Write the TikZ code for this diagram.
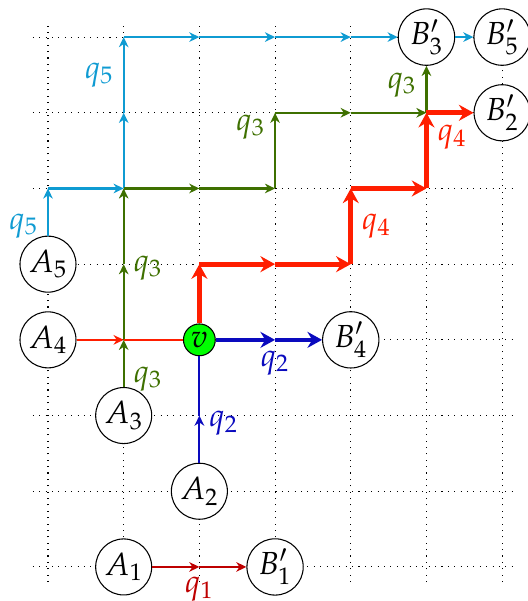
\documentclass[tikz,border=0pt]{standalone}
\usepackage{amsmath, amssymb, tikz}
\usepackage{mathpazo}
\usetikzlibrary{arrows.meta}

\definecolor{qone}{RGB}{190,0,0}
\definecolor{qtwo}{RGB}{10,10,190}
\definecolor{qthree}{RGB}{62,112,0}
\definecolor{qfour}{RGB}{255,30,0}
\definecolor{qfive}{RGB}{15,155,210}

\tikzset{
    vertex/.style={circle, draw, fill=white, minimum size=0.74cm, inner sep=1pt, font=\large},
    thin arrow/.style={thick, -{Stealth[length=3.8pt, width=3.6pt, inset=1.2pt]}},
    fat arrow/.style={-{Stealth[length=5.5pt, width=6pt, inset=1.8pt]}},
    lbl/.style={font=\large}
}

\begin{document}
\begin{tikzpicture}
    \useasboundingbox (-0.634,-0.45) rectangle (6.34,7.49);
    % Grid
    \draw[dotted] (-0.2,-0.2) grid (6.2,7.2);

    % Grid points
    \coordinate (p05) at (0,5);
    \coordinate (p13) at (1,3);
    \coordinate (p14) at (1,4);
    \coordinate (p15) at (1,5);
    \coordinate (p16) at (1,6);
    \coordinate (p17) at (1,7);
    \coordinate (p20) at (2,0);
    \coordinate (p22) at (2,2);
    \coordinate (p24) at (2,4);
    \coordinate (p25) at (2,5);
    \coordinate (p27) at (2,7);
    \coordinate (p33) at (3,3);
    \coordinate (p34) at (3,4);
    \coordinate (p35) at (3,5);
    \coordinate (p36) at (3,6);
    \coordinate (p37) at (3,7);
    \coordinate (p44) at (4,4);
    \coordinate (p45) at (4,5);
    \coordinate (p46) at (4,6);
    \coordinate (p47) at (4,7);
    \coordinate (p55) at (5,5);
    \coordinate (p56) at (5,6);

    % Draw nodes
    \node[vertex] (A1) at (1,0) {$A_1$};
    \node[vertex] (A2) at (2,1) {$A_2$};
    \node[vertex] (A3) at (1,2) {$A_3$};
    \node[vertex] (A4) at (0,3) {$A_4$};
    \node[vertex] (A5) at (0,4) {$A_5$};
    \node[vertex] (B1) at (3,0) {$B'_1$};
    \node[vertex] (B2) at (6,6) {$B'_2$};
    \node[vertex] (B3) at (5,7) {$B'_3$};
    \node[vertex] (B4) at (4,3) {$B'_4$};
    \node[vertex] (B5) at (6,7) {$B'_5$};
    \node[circle, draw, fill=green, minimum size=0.42cm, inner sep=0pt, font=\large] (v) at (2,3) {$v$};

    % q1
    \draw[thin arrow, qone] (A1) -- (p20) node[lbl, below] {$q_1$};
    \draw[thin arrow, qone] (p20) -- (B1);

    % q2
    \draw[thin arrow, qtwo] (A2) -- (p22) node[lbl, pos=0.83, right] {$q_2$};
    \draw[thick, qtwo] (p22) -- (v);
    \draw[fat arrow, qtwo, line width=1.5pt] (v) -- (p33) node[lbl, below] {$q_2$};
    \draw[fat arrow, qtwo, line width=1.5pt] (p33) -- (B4);

    % q5
    \draw[thin arrow, qfive] (A5) -- (p05) node[lbl, pos=0.2, left] {$q_5$};
    \draw[thin arrow, qfive] (p05) -- (p15);
    \draw[thin arrow, qfive] (p15) -- (p16);
    \draw[thin arrow, qfive] (p16) -- (p17) node[lbl, midway, left] {$q_5$};
    \draw[thin arrow, qfive] (p17) -- (p27);
    \draw[thin arrow, qfive] (p27) -- (p37);
    \draw[thin arrow, qfive] (p37) -- (p47);
    \draw[thin arrow, qfive] (p47) -- (B3);
    \draw[thin arrow, qfive] (B3) -- (B5);

    % q3
    \draw[thin arrow, qthree] (A3) -- (p13) node[lbl, pos=0.17, right] {$q_3$};
    \draw[thin arrow, qthree] (p13) -- (p14) node[lbl, pos=0.95, right] {$q_3$};
    \draw[thin arrow, qthree] (p14) -- (p15);
    \draw[thin arrow, qthree] (p15) -- (p25);
    \draw[thin arrow, qthree] (p25) -- (p35);
    \draw[thin arrow, qthree] (p35) -- (p36) node[lbl, pos=0.81, left] {$q_3$};
    \draw[thin arrow, qthree] (p36) -- (p46);
    \draw[thin arrow, qthree] (p46) -- (p56);
    \draw[thin arrow, qthree] (p56) -- (B3) node[lbl, pos=0.59, left] {$q_3$};

    % q4
    \draw[thin arrow, qfour] (A4) -- (p13);
    \draw[thick, qfour] (p13) -- (v);
    \draw[fat arrow, qfour, line width=1.8pt] (v) -- (p24);
    \draw[fat arrow, qfour, line width=1.8pt] (p24) -- (p34);
    \draw[fat arrow, qfour, line width=1.8pt] (p34) -- (p44);
    \draw[fat arrow, qfour, line width=1.8pt] (p44) -- (p45) node[lbl, midway, right] {$q_4$};
    \draw[fat arrow, qfour, line width=1.8pt] (p45) -- (p55);
    \draw[fat arrow, qfour, line width=1.8pt] (p55) -- (p56) node[lbl, pos=0.68, right] {$q_4$};
    \draw[fat arrow, qfour, line width=1.8pt] (p56) -- (B2);
\end{tikzpicture}
\end{document}
